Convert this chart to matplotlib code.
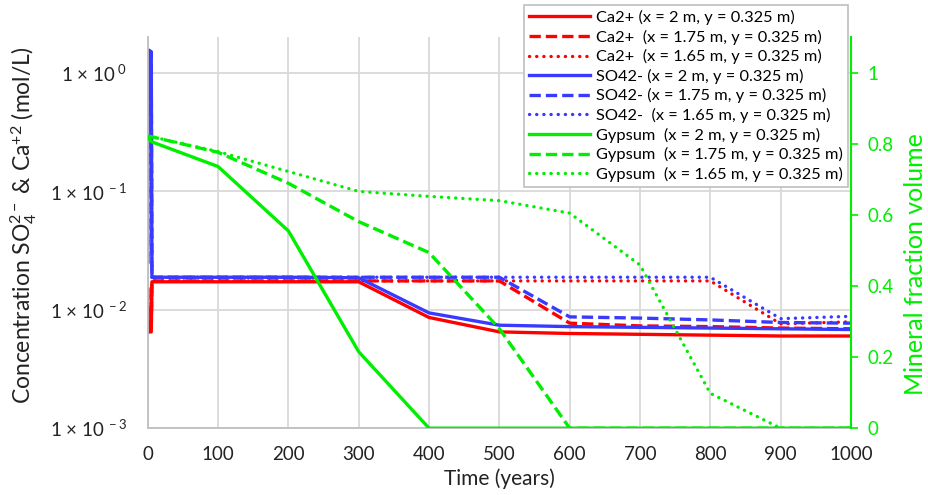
import matplotlib
matplotlib.use("Agg")
import math
import matplotlib.pyplot as plt
from matplotlib.ticker import FixedLocator, FuncFormatter

plt.rcParams['font.family'] = ['Lato', 'DejaVu Sans']
plt.rcParams['mathtext.fontset'] = 'custom'
plt.rcParams['mathtext.rm'] = 'Lato'
plt.rcParams['mathtext.it'] = 'Lato:italic'
plt.rcParams['mathtext.bf'] = 'Lato:bold'

# ---- data ----
t_conc = [0, 0.5, 5, 6, 100, 200, 300, 400, 500, 600, 700, 800, 900, 1000]
ca_2 = [0.015, 0.0065, 0.0065, 0.0172, 0.0172, 0.0172, 0.0172, 0.0086, 0.0065, 0.0063, 0.0062, 0.0061, 0.0060, 0.0060]
ca_175 = [0.015, 0.0065, 0.0065, 0.0175, 0.0175, 0.0175, 0.0175, 0.0175, 0.0175, 0.0077, 0.0073, 0.0072, 0.0070, 0.0069]
ca_165 = [0.015, 0.0065, 0.0065, 0.0175, 0.0175, 0.0175, 0.0175, 0.0175, 0.0175, 0.0175, 0.0175, 0.0175, 0.0076, 0.0079]
so4_2 = [0.025, 1.56, 1.5, 0.0188, 0.0188, 0.0188, 0.0186, 0.0094, 0.0074, 0.0072, 0.0071, 0.0070, 0.0069, 0.0068]
so4_175 = [0.025, 1.56, 1.5, 0.0188, 0.0188, 0.0188, 0.0188, 0.0188, 0.0188, 0.0087, 0.0085, 0.0082, 0.0078, 0.0077]
so4_165 = [0.025, 1.56, 1.5, 0.0188, 0.0188, 0.0188, 0.0188, 0.0188, 0.0188, 0.0188, 0.0188, 0.0188, 0.0084, 0.0088]

t_min = [0, 5, 100, 200, 300, 400, 500, 600, 700, 800, 900, 1000]
gyp_2 = [0.82, 0.806, 0.736, 0.555, 0.215, 0, 0, 0, 0, 0, 0, 0]
gyp_175 = [0.82, 0.82, 0.776, 0.689, 0.581, 0.494, 0.28, 0, 0, 0, 0, 0]
gyp_165 = [0.82, 0.82, 0.778, 0.722, 0.666, 0.652, 0.640, 0.605, 0.459, 0.098, 0, 0]

labels = [
    "Ca2+ (x = 2 m, y = 0.325 m)",
    "Ca2+  (x = 1.75 m, y = 0.325 m)",
    "Ca2+  (x = 1.65 m, y = 0.325 m)",
    "SO42- (x = 2 m, y = 0.325 m)",
    "SO42- (x = 1.75 m, y = 0.325 m)",
    "SO42-  (x = 1.65 m, y = 0.325 m)",
    "Gypsum  (x = 2 m, y = 0.325 m)",
    "Gypsum  (x = 1.75 m, y = 0.325 m)",
    "Gypsum  (x = 1.65 m, y = 0.325 m)",
]
x_ticks = [0, 100, 200, 300, 400, 500, 600, 700, 800, 900, 1000]
y_ticks = [1e-3, 1e-2, 1e-1, 1e0]
y2_ticks = [0, 0.2, 0.4, 0.6, 0.8, 1.0]

RED = '#ff0000'
BLUE = '#3a3aff'
GREEN = '#00ee00'
GRID = '#d9d9d9'
TXT = '#222222'

fig = plt.figure(figsize=(9.29, 4.95), dpi=100)
ax = fig.add_axes([0.159, 0.135, 0.757, 0.79])
ax2 = ax.twinx()

lw = 2.4
DOT = (0, (0.05, 2.1))

def style(ls):
    if ls == ':':
        return dict(ls=DOT, dash_capstyle='round')
    if ls == '--':
        return dict(ls=(0, (3.4, 1.5)), dash_capstyle='butt')
    return dict(ls='-')

styles = ['-', '--', ':']
handles = []
for series, ls in zip([ca_2, ca_175, ca_165], styles):
    h, = ax.plot(t_conc, series, color=RED, lw=lw, **style(ls))
    handles.append(h)
for series, ls in zip([so4_2, so4_175, so4_165], styles):
    h, = ax.plot(t_conc, series, color=BLUE, lw=lw, **style(ls))
    handles.append(h)
for series, ls in zip([gyp_2, gyp_175, gyp_165], styles):
    h, = ax2.plot(t_min, series, color=GREEN, lw=lw, **style(ls))
    handles.append(h)

ax.set_yscale('log')
ax.set_ylim(1e-3, 2.0)
ax.set_xlim(0, 1000)
ax2.set_ylim(0, 1.1)

ax.xaxis.set_major_locator(FixedLocator(x_ticks))
ax.yaxis.set_major_locator(FixedLocator(y_ticks))
ax.yaxis.set_minor_locator(FixedLocator([]))

def fmt(v, pos):
    e = int(round(math.log10(v)))
    return "1 × 10$^{\\ %d}$" % e
ax.yaxis.set_major_formatter(FuncFormatter(fmt))

ax2.yaxis.set_major_locator(FixedLocator(y2_ticks))
ax2.yaxis.set_major_formatter(FuncFormatter(lambda v, p: "%g" % v))

ax.grid(True, which='major', color=GRID, lw=1.3)
ax.set_axisbelow(True)

for s in ['top', 'right']:
    ax.spines[s].set_visible(False)
for s in ['top', 'left', 'bottom']:
    ax2.spines[s].set_visible(False)
ax.spines['left'].set_color('#bfbfbf')
ax.spines['bottom'].set_color('#bfbfbf')
ax.spines['left'].set_linewidth(1.3)
ax.spines['bottom'].set_linewidth(1.3)
ax2.spines['right'].set_color(GREEN)
ax2.spines['right'].set_linewidth(1.5)

ax.tick_params(axis='both', length=0, labelsize=13.5, colors=TXT)
ax.tick_params(axis='y', pad=15)
ax.tick_params(axis='x', pad=13)
ax2.tick_params(axis='y', length=5, width=1.2, color=GREEN, labelcolor=GREEN, labelsize=13.5, pad=7)

ax.set_xlabel("Time (years)", fontsize=15, color=TXT, labelpad=4)
ax.set_ylabel("Concentration SO$_4^{2-}$ & Ca$^{+2}$ (mol/L)", fontsize=16.5, color=TXT)
ax.yaxis.set_label_coords(-0.155, 0.52)
ax2.set_ylabel("Mineral fraction volume", fontsize=18, color=GREEN)
ax2.yaxis.set_label_coords(1.075, 0.42)

leg = ax2.legend(handles, labels, loc='upper right', bbox_to_anchor=(848/929, 1 - 5/495),
                 bbox_transform=fig.transFigure, fontsize=11.75, handlelength=3.7,
                 frameon=True, fancybox=False, edgecolor='#bfbfbf', framealpha=1,
                 borderpad=0.3, labelspacing=0.28, handletextpad=0.4, borderaxespad=0)
leg.get_frame().set_linewidth(1.2)

fig.savefig("out.png", dpi=100)
